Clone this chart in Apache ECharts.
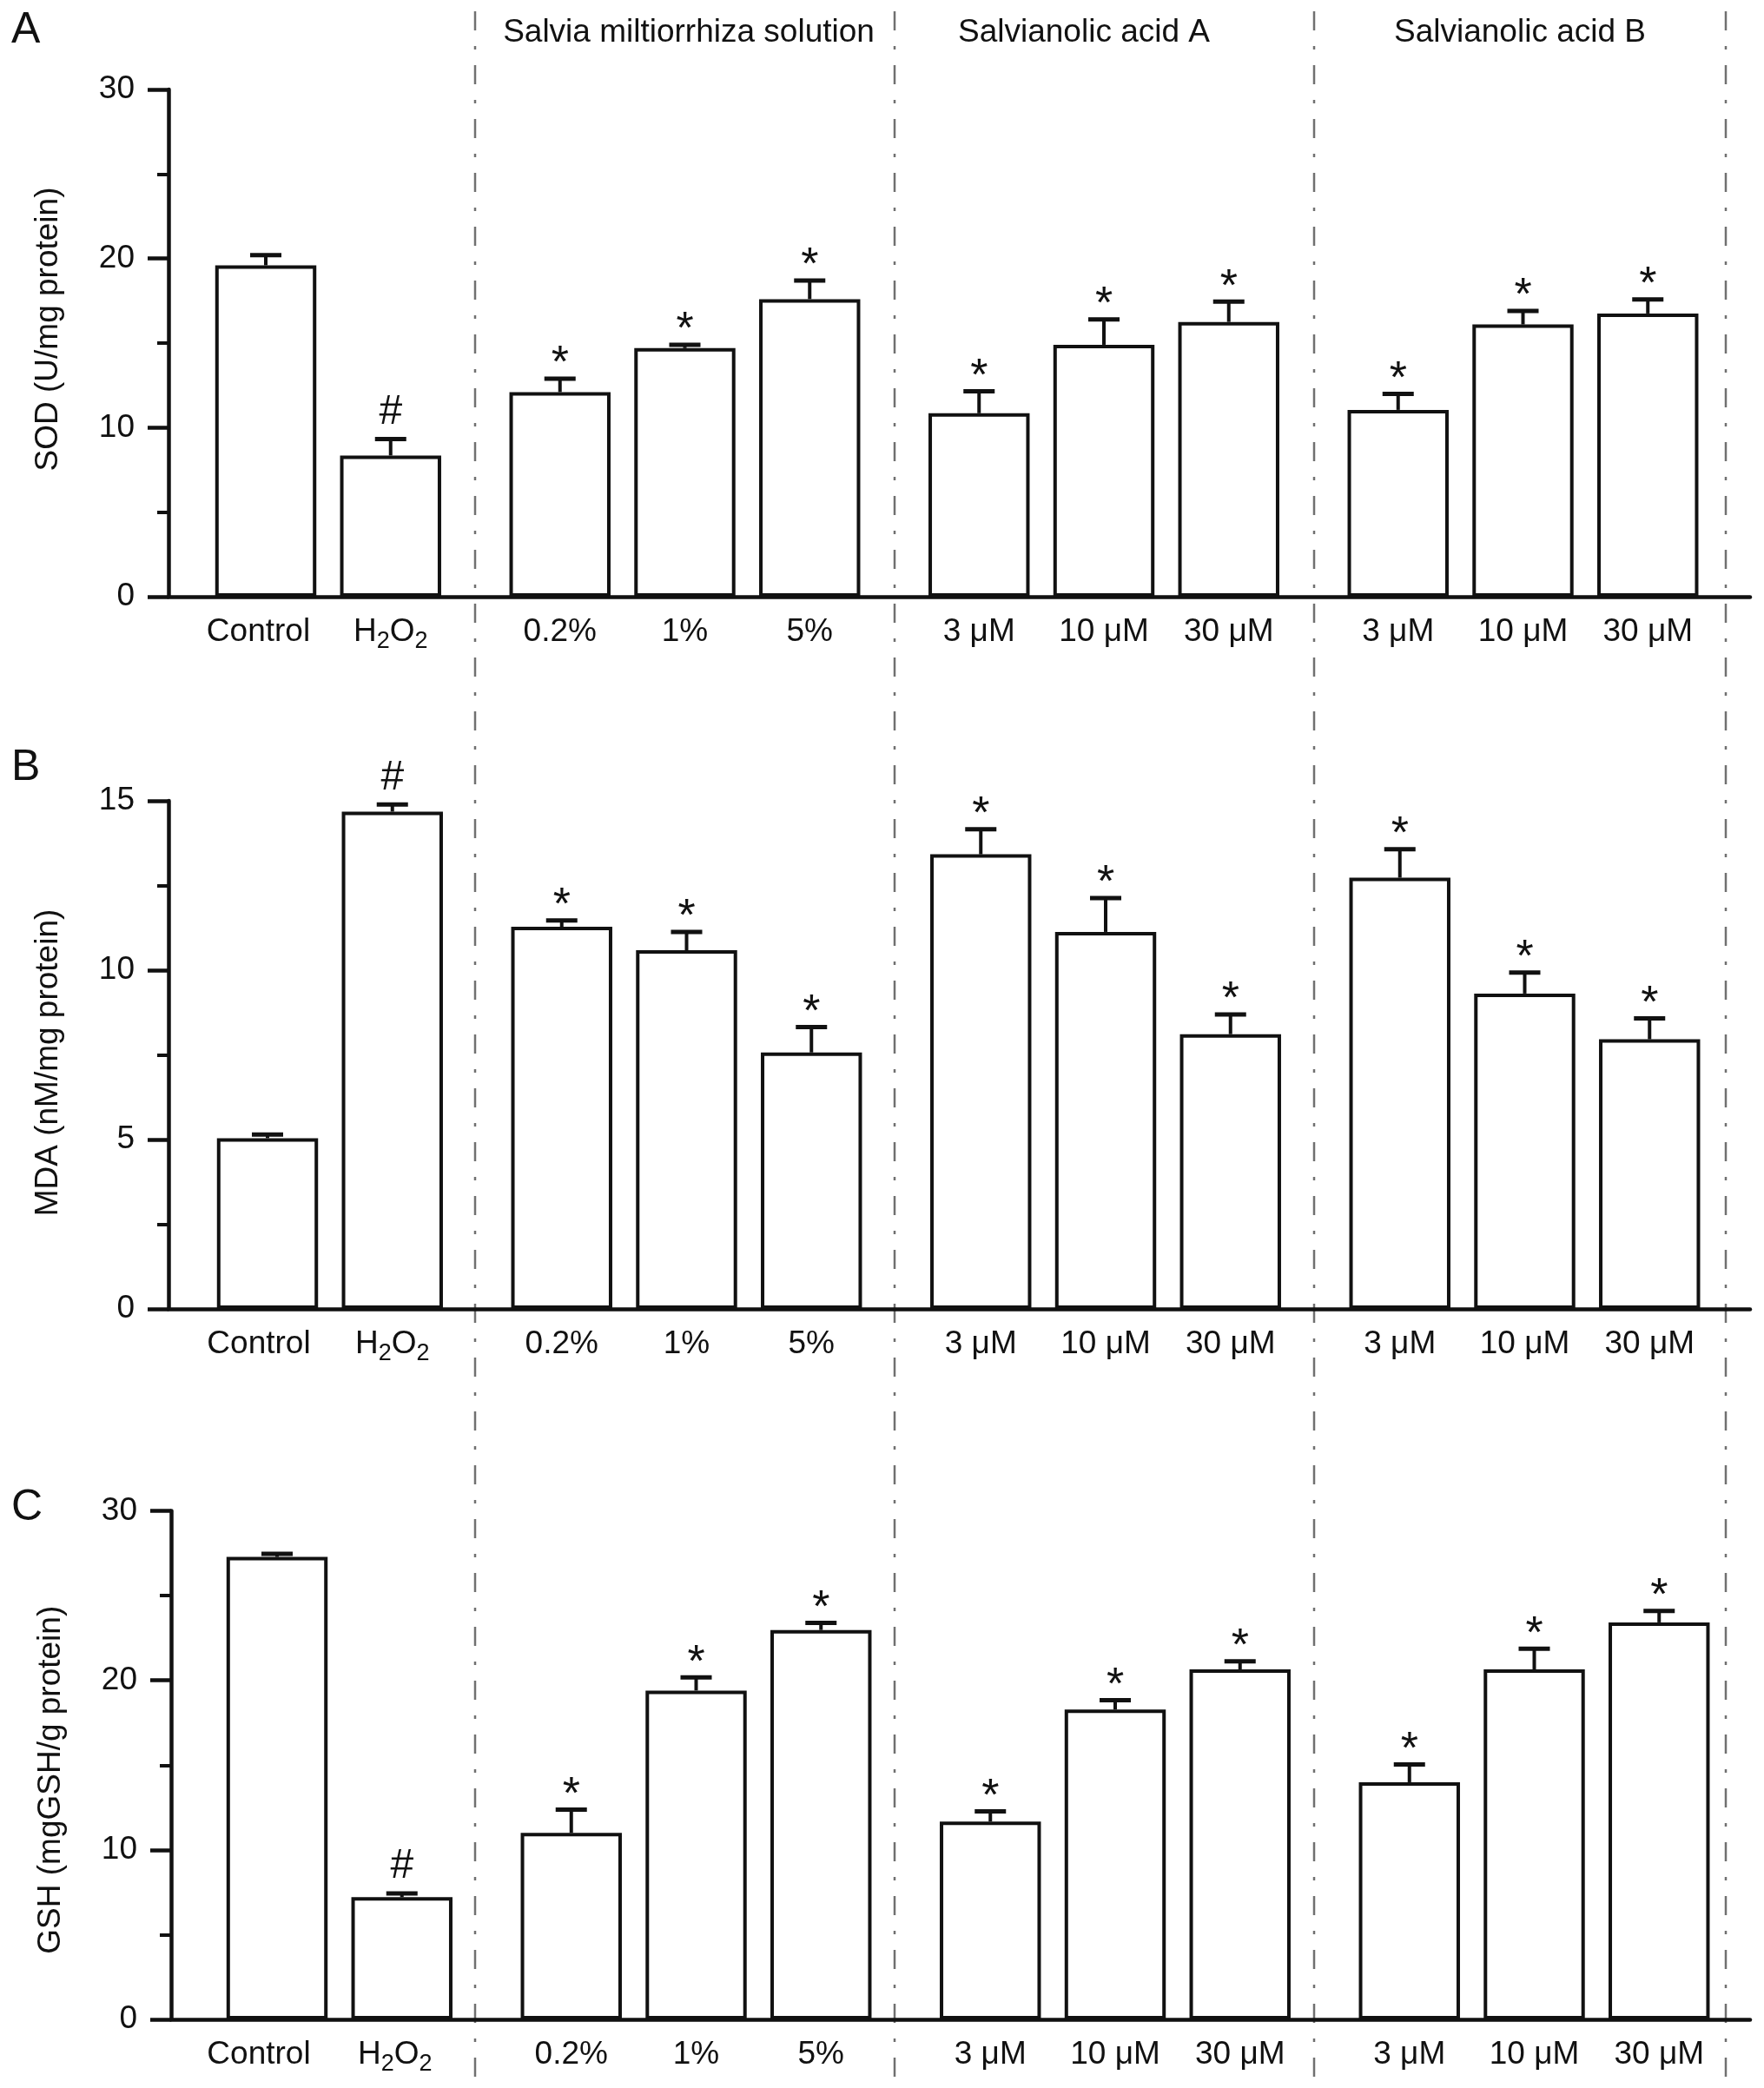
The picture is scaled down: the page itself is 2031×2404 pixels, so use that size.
<!DOCTYPE html>
<html>
<head>
<meta charset="utf-8">
<script src="https://cdn.jsdelivr.net/npm/echarts@6/dist/echarts.min.js"></script>
<style>
html,body{margin:0;padding:0;background:#fff;}
#chart{width:2031px;height:2404px;}
</style>
</head>
<body>
<div id="chart"></div>
<script>
// ---------- data ----------
const categories = ['Control', 'H2O2', '0.2%', '1%', '5%', '3 μM', '10 μM', '30 μM', '3 μM', '10 μM', '30 μM'];
const groupSizes = [2, 3, 3, 3];
const groupTitles = ['', 'Salvia miltiorrhiza solution', 'Salvianolic acid A', 'Salvianolic acid B'];
const panelLetters = ['A', 'B', 'C'];
const yTitles = ['SOD (U/mg protein)', 'MDA (nM/mg protein)', 'GSH (mgGSH/g protein)'];
const yMax = [30, 15, 30];
const yInterval = [10, 5, 10];

const sodMean = [19.6, 8.35, 12.1, 14.7, 17.6, 10.85, 14.9, 16.25, 11.05, 16.1, 16.75];
const sodErr  = [0.6, 0.97, 0.8, 0.2, 1.1, 1.3, 1.5, 1.2, 0.94, 0.8, 0.83];
const sodMarks = ['', '#', '*', '*', '*', '*', '*', '*', '*', '*', '*'];

const mdaMean = [5.04, 14.68, 11.28, 10.59, 7.57, 13.42, 11.13, 8.11, 12.73, 9.31, 7.96];
const mdaErr  = [0.11, 0.21, 0.19, 0.54, 0.75, 0.74, 1.0, 0.58, 0.84, 0.62, 0.62];
const mdaMarks = ['', '#', '*', '*', '*', '*', '*', '*', '*', '*', '*'];

const gshMean = [27.28, 7.21, 11.0, 19.4, 22.97, 11.67, 18.28, 20.65, 13.99, 20.65, 23.42];
const gshErr  = [0.18, 0.22, 1.37, 0.77, 0.42, 0.6, 0.55, 0.47, 1.05, 1.22, 0.67];
const gshMarks = ['', '#', '*', '*', '*', '*', '*', '*', '*', '*', '*'];

// ---------- layout (pixels) ----------
const FONT = 'Liberation Sans, Arial, Helvetica, DejaVu Sans, sans-serif';
const INK = '#111111';
const panelLayout = [
  {top: 103, bottom: 687, axisX: 194, base: 306, namePad: [0, 0, 0, 32], letterY: 35.5, labelShift: [-8.5, 0]},
  {top: 922, bottom: 1507, axisX: 194, base: 308, namePad: [0, 18, 0, 0], letterY: 884.5, labelShift: [-10, 0]},
  {top: 1739.5, bottom: 2325, axisX: 197, base: 319, namePad: [0, 34, 0, 0], letterY: 1736.5, labelShift: [-21, -8]}
];
const axisRight = 2015;
const pitch = 143.75;
const groupGap = 195 - pitch; // extra spacing between groups
const separatorX = [547, 1030, 1513, 1987];
const titleX = [0, 793, 1248, 1750];

const panelData = [
  {mean: sodMean, err: sodErr, marks: sodMarks},
  {mean: mdaMean, err: mdaErr, marks: mdaMarks},
  {mean: gshMean, err: gshErr, marks: gshMarks}
];

const grid = [], xAxis = [], yAxis = [], series = [], graphic = [];

panelLayout.forEach((L, p) => {
  const h = L.bottom - L.top;
  const fi = grid.length;
  grid.push({left: L.axisX, top: L.top, width: axisRight - L.axisX, height: h});
  xAxis.push({
    gridIndex: fi, type: 'value', min: 0, max: 1,
    axisLine: {show: true, lineStyle: {color: INK, width: 4.5}},
    axisTick: {show: false}, axisLabel: {show: false}, splitLine: {show: false}
  });
  yAxis.push({
    gridIndex: fi, type: 'value', min: 0, max: yMax[p], interval: yInterval[p],
    axisLine: {show: true, lineStyle: {color: INK, width: 4.5}},
    axisTick: {show: true, length: 24, lineStyle: {color: INK, width: 4.5}},
    minorTick: {show: true, splitNumber: 2, length: 13, lineStyle: {color: INK, width: 4}},
    splitLine: {show: false}, minorSplitLine: {show: false},
    axisLabel: {fontSize: 37, color: INK, margin: 39, fontFamily: FONT},
    name: yTitles[p], nameLocation: 'middle', nameGap: 120, nameRotate: 90,
    nameTextStyle: {fontSize: 37, color: INK, fontFamily: FONT, padding: L.namePad}
  });

  let start = 0;
  let center = L.base;
  groupSizes.forEach((n, g) => {
    const gi = grid.length;
    const cats = categories.slice(start, start + n).map((c, i) => {
      const s = g === 0 ? L.labelShift[i] : 0;
      return s ? {value: c, textStyle: {padding: [0, -2 * s, 0, 0]}} : c;
    });
    const means = panelData[p].mean.slice(start, start + n);
    const errs = panelData[p].err.slice(start, start + n);
    const marks = panelData[p].marks.slice(start, start + n);
    grid.push({left: center - pitch / 2, top: L.top, width: n * pitch, height: h});
    xAxis.push({
      gridIndex: gi, type: 'category', data: cats,
      axisLine: {show: false}, axisTick: {show: false},
      axisLabel: {
        interval: 0, hideOverlap: false,
        fontSize: 37, color: INK, margin: 22, fontFamily: FONT, lineHeight: 37,
        formatter: v => v === 'H2O2' ? '{n|H}{s|2}{n|O}{s|2}' : v,
        rich: {
          n: {fontSize: 37, lineHeight: 37, verticalAlign: 'top', fontFamily: FONT, color: INK},
          s: {fontSize: 27, lineHeight: 43, verticalAlign: 'bottom', fontFamily: FONT, color: INK}
        }
      }
    });
    yAxis.push({gridIndex: gi, type: 'value', min: 0, max: yMax[p], show: false});
    series.push({
      type: 'bar', xAxisIndex: gi, yAxisIndex: gi, data: means, barWidth: '81%',
      itemStyle: {color: '#fff', borderColor: INK, borderWidth: 4},
      silent: true, animation: false, z: 3
    });
    series.push({
      type: 'custom', xAxisIndex: gi, yAxisIndex: gi, silent: true, animation: false, z: 4,
      data: means.map((m, i) => [i, m, m + errs[i]]),
      renderItem: (params, api) => {
        const i = api.value(0);
        const b = api.coord([i, api.value(1)]);
        const t = api.coord([i, api.value(2)]);
        const mk = marks[params.dataIndex];
        const children = [
          {type: 'line', shape: {x1: b[0], y1: b[1], x2: t[0], y2: t[1]}, style: {stroke: INK, lineWidth: 4}},
          {type: 'line', shape: {x1: t[0] - 18, y1: t[1], x2: t[0] + 18, y2: t[1]}, style: {stroke: INK, lineWidth: 5}}
        ];
        if (mk) {
          children.push({
            type: 'text',
            style: {
              text: mk, x: t[0], y: t[1] - (mk === '*' ? 16 : 31),
              align: 'center', verticalAlign: 'middle',
              fontSize: mk === '*' ? 52 : 48, fontFamily: FONT, fill: INK
            }
          });
        }
        return {type: 'group', children};
      }
    });
    start += n;
    center += n * pitch + groupGap;
  });

  graphic.push({
    type: 'text', x: 13, y: L.letterY, z: 10,
    style: {text: panelLetters[p], fontSize: 50, fontFamily: FONT, fill: INK, align: 'left', verticalAlign: 'middle'}
  });
});

separatorX.forEach(x => {
  graphic.push({
    type: 'line', z: -1,
    shape: {x1: x, y1: 13, x2: x, y2: 2404},
    style: {stroke: '#707070', lineWidth: 2.5, lineDash: [22, 18, 4, 18]}
  });
});
groupTitles.forEach((t, g) => {
  if (!t) return;
  graphic.push({
    type: 'text', x: titleX[g], y: 37.5, z: 10,
    style: {text: t, fontSize: 37, fontFamily: FONT, fill: INK, align: 'center', verticalAlign: 'middle'}
  });
});

const chart = echarts.init(document.getElementById('chart'), null, {renderer: 'canvas'});
chart.setOption({
  backgroundColor: '#ffffff',
  animation: false,
  grid, xAxis, yAxis, series, graphic
});
</script>
</body>
</html>
